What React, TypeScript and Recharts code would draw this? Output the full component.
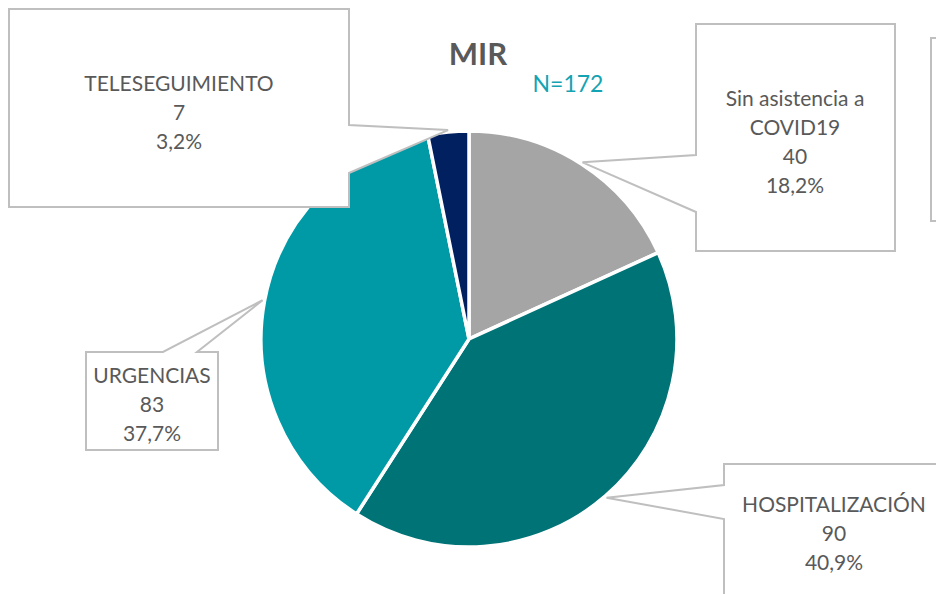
import { Cell, Pie, PieChart } from "recharts";

const categories = [
  "Sin asistencia a\nCOVID19",
  "HOSPITALIZACIÓN",
  "URGENCIAS",
  "TELESEGUIMIENTO",
];
const values = [40, 90, 83, 7];
const colors = ["#A5A5A5", "#007377", "#009AA6", "#002060"];
const title = "MIR";
const subtitle = "N=172";

const total = values.reduce((a, b) => a + b, 0);
const data = categories.map((name, i) => ({ name, value: values[i] }));

const FONT = "Lato, 'Open Sans', sans-serif";
const RADIAN = Math.PI / 180;

// box + wedge placement for each slice's callout
const callouts = [
  { x: 696, y: 24, w: 199, h: 227, side: "left", a: 155, b: 212, tx: 795, ty: 97 },
  { x: 724, y: 464, w: 240, h: 200, side: "left", a: 485, b: 519, tx: 834, ty: 503 },
  { x: 86, y: 352, w: 132, h: 98, side: "top", a: 163, b: 197, tx: 152, ty: 374 },
  { x: 9, y: 9, w: 340, h: 198, side: "right", a: 125, b: 173, tx: 179, ty: 82 },
];

function calloutPath(c: (typeof callouts)[number], px: number, py: number) {
  const { x, y, w, h, side, a, b } = c;
  const pts: [number, number][] = [[x, y]];
  if (side === "top") pts.push([a, y], [px, py], [b, y]);
  pts.push([x + w, y]);
  if (side === "right") pts.push([x + w, a], [px, py], [x + w, b]);
  pts.push([x + w, y + h], [x, y + h]);
  if (side === "left") pts.push([x, b], [px, py], [x, a]);
  return "M" + pts.map((p) => p.join(",")).join("L") + "Z";
}

function renderLabel(props: any) {
  const { cx, cy, midAngle, outerRadius, index, value, name } = props;
  const c = callouts[index];
  const r = outerRadius + 2;
  const px = cx + r * Math.cos(-midAngle * RADIAN);
  const py = cy + r * Math.sin(-midAngle * RADIAN);
  const pct = ((value / total) * 100).toFixed(1).replace(".", ",") + "%";
  const lines = [...String(name).split("\n"), String(value), pct];
  return (
    <g key={"callout-" + index}>
      <path d={calloutPath(c, px, py)} fill="#fff" stroke="#BFBFBF" strokeWidth={2} />
      {lines.map((t, i) => (
        <text
          key={i}
          x={c.tx}
          y={c.ty + i * 29}
          textAnchor="middle"
          dominantBaseline="central"
          fontFamily={FONT}
          fontSize={21}
          fill="#595959"
        >
          {t}
        </text>
      ))}
    </g>
  );
}

export default function App() {
  return (
    <div
      style={{
        position: "absolute",
        left: 0,
        top: 0,
        width: 936,
        height: 594,
        background: "#fff",
        overflow: "hidden",
      }}
    >
      <PieChart width={936} height={594} margin={{ top: 0, right: 0, bottom: 0, left: 0 }}>
        <Pie
          data={data}
          dataKey="value"
          nameKey="name"
          cx={469}
          cy={339}
          outerRadius={208}
          startAngle={90}
          endAngle={-270}
          stroke="#fff"
          strokeWidth={3.5}
          label={renderLabel}
          labelLine={false}
          isAnimationActive={false}
        >
          {data.map((d, i) => (
            <Cell key={d.name} fill={colors[i]} />
          ))}
        </Pie>
      </PieChart>
      <svg
        width={936}
        height={594}
        style={{ position: "absolute", left: 0, top: 0, pointerEvents: "none" }}
      >
        <text x={478} y={65} textAnchor="middle" fontFamily={FONT} fontWeight="bold" fontSize={31} fill="#595959">
          {title}
        </text>
        <text x={568} y={92} textAnchor="middle" fontFamily={FONT} fontSize={23} fill="#13A3B3">
          {subtitle}
        </text>
        <rect x={931} y={38} width={30} height={183} fill="#fff" stroke="#BFBFBF" strokeWidth={2} />
      </svg>
    </div>
  );
}
